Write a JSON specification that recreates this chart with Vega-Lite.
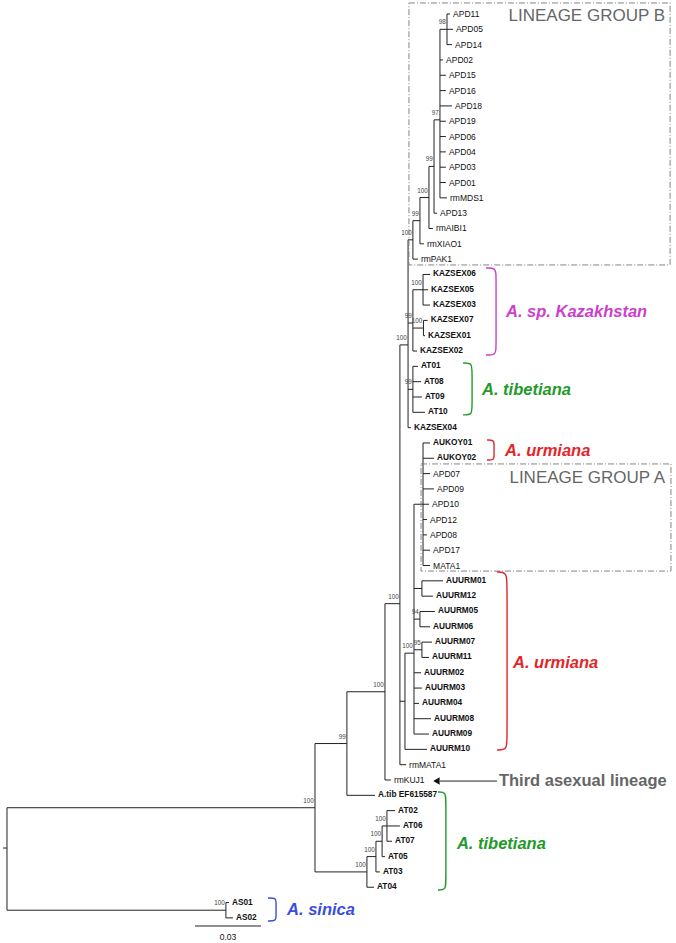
{
  "$schema": "https://vega.github.io/schema/vega-lite/v6.json",
  "width": 676,
  "height": 943,
  "autosize": "none",
  "padding": 0,
  "background": "white",
  "config": {"view": {"stroke": null}, "axis": {"disable": true}, "font": "Liberation Sans"},
  "datasets": {
    "tree": [
      {"id":"nMain","parent":"root","x0":0,"x":0.14,"y":52.81,"boot":"100","type":"node"},
      {"id":"nAS","parent":"root","x0":0,"x":0.0995,"y":59.5,"boot":"100","type":"node"},
      {"id":"n99c","parent":"nMain","x0":0.14,"x":0.1545,"y":48.62,"boot":"99","type":"node"},
      {"id":"nATd","parent":"nMain","x0":0.14,"x":0.1636,"y":57,"boot":"100","type":"node"},
      {"id":"nATc","parent":"nATd","x0":0.1636,"x":0.1677,"y":56,"boot":"100","type":"node"},
      {"id":"nATb","parent":"nATc","x0":0.1677,"x":0.1705,"y":55,"boot":"100","type":"node"},
      {"id":"nATa","parent":"nATb","x0":0.1705,"x":0.1727,"y":54,"boot":"100","type":"node"},
      {"id":"n385","parent":"n99c","x0":0.1545,"x":0.1718,"y":45.24,"boot":"100","type":"node"},
      {"id":"nN","parent":"n385","x0":0.1718,"x":0.1786,"y":39.49,"boot":"100","type":"node"},
      {"id":"nUpper","parent":"nN","x0":0.1786,"x":0.1823,"y":22.6,"boot":"100","type":"node"},
      {"id":"nV","parent":"nN","x0":0.1786,"x":0.1809,"y":45.86,"boot":"","type":"node"},
      {"id":"nU","parent":"nV","x0":0.1809,"x":0.185,"y":42.72,"boot":"100","type":"node"},
      {"id":"nA","parent":"nU","x0":0.185,"x":0.1891,"y":33,"boot":"","type":"node"},
      {"id":"nAU1","parent":"nU","x0":0.185,"x":0.1886,"y":38.5,"boot":"","type":"node"},
      {"id":"n94","parent":"nU","x0":0.185,"x":0.1877,"y":40.5,"boot":"94","type":"node"},
      {"id":"n95","parent":"nU","x0":0.185,"x":0.1886,"y":42.5,"boot":"95","type":"node"},
      {"id":"nLinB","parent":"nUpper","x0":0.1823,"x":0.1845,"y":15.74,"boot":"100","type":"node"},
      {"id":"n99b","parent":"nLinB","x0":0.1845,"x":0.1877,"y":14.49,"boot":"99","type":"node"},
      {"id":"n100a","parent":"n99b","x0":0.1877,"x":0.1918,"y":12.98,"boot":"100","type":"node"},
      {"id":"n99a","parent":"n100a","x0":0.1918,"x":0.1941,"y":10.95,"boot":"99","type":"node"},
      {"id":"n97","parent":"n99a","x0":0.1941,"x":0.1968,"y":7.91,"boot":"97","type":"node"},
      {"id":"n98","parent":"n97","x0":0.1968,"x":0.2,"y":2,"boot":"98","type":"node"},
      {"id":"nKAZ","parent":"nUpper","x0":0.1823,"x":0.1845,"y":21.17,"boot":"99","type":"node"},
      {"id":"nK100a","parent":"nKAZ","x0":0.1845,"x":0.1891,"y":19,"boot":"100","type":"node"},
      {"id":"nK100b","parent":"nKAZ","x0":0.1845,"x":0.1893,"y":21.5,"boot":"100","type":"node"},
      {"id":"nAT","parent":"nUpper","x0":0.1823,"x":0.1845,"y":25.5,"boot":"99","type":"node"},
      {"id":"APD11","parent":"n98","x0":0.2,"x":0.2014,"y":1,"boot":"","type":"asexual"},
      {"id":"APD05","parent":"n98","x0":0.2,"x":0.2027,"y":2,"boot":"","type":"asexual"},
      {"id":"APD14","parent":"n98","x0":0.2,"x":0.2023,"y":3,"boot":"","type":"asexual"},
      {"id":"APD02","parent":"n97","x0":0.1968,"x":0.1982,"y":4,"boot":"","type":"asexual"},
      {"id":"APD15","parent":"n97","x0":0.1968,"x":0.1995,"y":5,"boot":"","type":"asexual"},
      {"id":"APD16","parent":"n97","x0":0.1968,"x":0.1995,"y":6,"boot":"","type":"asexual"},
      {"id":"APD18","parent":"n97","x0":0.1968,"x":0.2023,"y":7,"boot":"","type":"asexual"},
      {"id":"APD19","parent":"n97","x0":0.1968,"x":0.1995,"y":8,"boot":"","type":"asexual"},
      {"id":"APD06","parent":"n97","x0":0.1968,"x":0.1995,"y":9,"boot":"","type":"asexual"},
      {"id":"APD04","parent":"n97","x0":0.1968,"x":0.1995,"y":10,"boot":"","type":"asexual"},
      {"id":"APD03","parent":"n97","x0":0.1968,"x":0.1995,"y":11,"boot":"","type":"asexual"},
      {"id":"APD01","parent":"n97","x0":0.1968,"x":0.1995,"y":12,"boot":"","type":"asexual"},
      {"id":"rmMDS1","parent":"n97","x0":0.1968,"x":0.2,"y":13,"boot":"","type":"asexual"},
      {"id":"APD13","parent":"n99a","x0":0.1941,"x":0.1955,"y":14,"boot":"","type":"asexual"},
      {"id":"rmAIBI1","parent":"n100a","x0":0.1918,"x":0.1936,"y":15,"boot":"","type":"asexual"},
      {"id":"rmXIAO1","parent":"n99b","x0":0.1877,"x":0.1895,"y":16,"boot":"","type":"asexual"},
      {"id":"rmPAK1","parent":"nLinB","x0":0.1845,"x":0.1868,"y":17,"boot":"","type":"asexual"},
      {"id":"KAZSEX06","parent":"nK100a","x0":0.1891,"x":0.1923,"y":18,"boot":"","type":"sexual"},
      {"id":"KAZSEX05","parent":"nK100a","x0":0.1891,"x":0.1914,"y":19,"boot":"","type":"sexual"},
      {"id":"KAZSEX03","parent":"nK100a","x0":0.1891,"x":0.1923,"y":20,"boot":"","type":"sexual"},
      {"id":"KAZSEX07","parent":"nK100b","x0":0.1893,"x":0.1912,"y":21,"boot":"","type":"sexual"},
      {"id":"KAZSEX01","parent":"nK100b","x0":0.1893,"x":0.1900,"y":22,"boot":"","type":"sexual"},
      {"id":"KAZSEX02","parent":"nKAZ","x0":0.1845,"x":0.1864,"y":23,"boot":"","type":"sexual"},
      {"id":"AT01","parent":"nAT","x0":0.1845,"x":0.1868,"y":24,"boot":"","type":"sexual"},
      {"id":"AT08","parent":"nAT","x0":0.1845,"x":0.1882,"y":25,"boot":"","type":"sexual"},
      {"id":"AT09","parent":"nAT","x0":0.1845,"x":0.1886,"y":26,"boot":"","type":"sexual"},
      {"id":"AT10","parent":"nAT","x0":0.1845,"x":0.19,"y":27,"boot":"","type":"sexual"},
      {"id":"KAZSEX04","parent":"nUpper","x0":0.1823,"x":0.1836,"y":28,"boot":"","type":"sexual"},
      {"id":"AUKOY01","parent":"nA","x0":0.1891,"x":0.1923,"y":29,"boot":"","type":"sexual"},
      {"id":"AUKOY02","parent":"nA","x0":0.1891,"x":0.1941,"y":30,"boot":"","type":"sexual"},
      {"id":"APD07","parent":"nA","x0":0.1891,"x":0.1923,"y":31,"boot":"","type":"asexual"},
      {"id":"APD09","parent":"nA","x0":0.1891,"x":0.1941,"y":32,"boot":"","type":"asexual"},
      {"id":"APD10","parent":"nA","x0":0.1891,"x":0.1918,"y":33,"boot":"","type":"asexual"},
      {"id":"APD12","parent":"nA","x0":0.1891,"x":0.1909,"y":34,"boot":"","type":"asexual"},
      {"id":"APD08","parent":"nA","x0":0.1891,"x":0.1909,"y":35,"boot":"","type":"asexual"},
      {"id":"APD17","parent":"nA","x0":0.1891,"x":0.1923,"y":36,"boot":"","type":"asexual"},
      {"id":"MATA1","parent":"nA","x0":0.1891,"x":0.1923,"y":37,"boot":"","type":"asexual"},
      {"id":"AUURM01","parent":"nAU1","x0":0.1886,"x":0.1982,"y":38,"boot":"","type":"sexual"},
      {"id":"AUURM12","parent":"nAU1","x0":0.1886,"x":0.1936,"y":39,"boot":"","type":"sexual"},
      {"id":"AUURM05","parent":"n94","x0":0.1877,"x":0.1945,"y":40,"boot":"","type":"sexual"},
      {"id":"AUURM06","parent":"n94","x0":0.1877,"x":0.1923,"y":41,"boot":"","type":"sexual"},
      {"id":"AUURM07","parent":"n95","x0":0.1886,"x":0.1932,"y":42,"boot":"","type":"sexual"},
      {"id":"AUURM11","parent":"n95","x0":0.1886,"x":0.1918,"y":43,"boot":"","type":"sexual"},
      {"id":"AUURM02","parent":"nU","x0":0.185,"x":0.1882,"y":44,"boot":"","type":"sexual"},
      {"id":"AUURM03","parent":"nU","x0":0.185,"x":0.1886,"y":45,"boot":"","type":"sexual"},
      {"id":"AUURM04","parent":"nU","x0":0.185,"x":0.1873,"y":46,"boot":"","type":"sexual"},
      {"id":"AUURM08","parent":"nU","x0":0.185,"x":0.1927,"y":47,"boot":"","type":"sexual"},
      {"id":"AUURM09","parent":"nU","x0":0.185,"x":0.1918,"y":48,"boot":"","type":"sexual"},
      {"id":"AUURM10","parent":"nV","x0":0.1809,"x":0.1909,"y":49,"boot":"","type":"sexual"},
      {"id":"rmMATA1","parent":"nN","x0":0.1786,"x":0.1814,"y":50,"boot":"","type":"asexual"},
      {"id":"rmKUJ1","parent":"n385","x0":0.1718,"x":0.1745,"y":51,"boot":"","type":"asexual"},
      {"id":"A.tib EF615587","parent":"n99c","x0":0.1545,"x":0.1673,"y":52,"boot":"","type":"sexual"},
      {"id":"AT02","parent":"nATa","x0":0.1727,"x":0.1764,"y":53,"boot":"","type":"sexual"},
      {"id":"AT06","parent":"nATa","x0":0.1727,"x":0.1786,"y":54,"boot":"","type":"sexual"},
      {"id":"AT07","parent":"nATa","x0":0.1727,"x":0.175,"y":55,"boot":"","type":"sexual"},
      {"id":"AT05","parent":"nATb","x0":0.1705,"x":0.1718,"y":56,"boot":"","type":"sexual"},
      {"id":"AT03","parent":"nATc","x0":0.1677,"x":0.1695,"y":57,"boot":"","type":"sexual"},
      {"id":"AT04","parent":"nATd","x0":0.1636,"x":0.1668,"y":58,"boot":"","type":"sexual"},
      {"id":"AS01","parent":"nAS","x0":0.0995,"x":0.1009,"y":59,"boot":"","type":"sexual"},
      {"id":"AS02","parent":"nAS","x0":0.0995,"x":0.1027,"y":60,"boot":"","type":"sexual"}
    ],
    "rules": [
      {"what":"root","x":-0.0018,"x2":0,"y":55.44},
      {"what":"scale","x":0.08545,"x2":0.11545,"y":60.53},
      {"what":"arrow","x":0.1968,"x2":0.2227,"y":51.07}
    ],
    "boxes": [
      {"name":"B","x":0.1827,"x2":0.3014,"y":0.28,"y2":17.38},
      {"name":"A","x":0.1882,"x2":0.3018,"y":30.37,"y2":37.36}
    ],
    "brackets": [
      {"g":"k","sp":"A. sp. Kazakhstan","o":1,"x":0.2177,"y":17.58},
      {"g":"k","sp":"A. sp. Kazakhstan","o":2,"x":0.2223,"y":17.58},
      {"g":"k","sp":"A. sp. Kazakhstan","o":3,"x":0.2223,"y":18.1},
      {"g":"k","sp":"A. sp. Kazakhstan","o":4,"x":0.2223,"y":22.74},
      {"g":"k","sp":"A. sp. Kazakhstan","o":5,"x":0.2223,"y":23.26},
      {"g":"k","sp":"A. sp. Kazakhstan","o":6,"x":0.2177,"y":23.26},
      {"g":"t1","sp":"A. tibetiana","o":1,"x":0.2073,"y":23.78},
      {"g":"t1","sp":"A. tibetiana","o":2,"x":0.2114,"y":23.78},
      {"g":"t1","sp":"A. tibetiana","o":3,"x":0.2114,"y":24.3},
      {"g":"t1","sp":"A. tibetiana","o":4,"x":0.2114,"y":26.65},
      {"g":"t1","sp":"A. tibetiana","o":5,"x":0.2114,"y":27.17},
      {"g":"t1","sp":"A. tibetiana","o":6,"x":0.2073,"y":27.17},
      {"g":"u1","sp":"A. urmiana","o":1,"x":0.2182,"y":28.81},
      {"g":"u1","sp":"A. urmiana","o":2,"x":0.2214,"y":28.81},
      {"g":"u1","sp":"A. urmiana","o":3,"x":0.2214,"y":29.1},
      {"g":"u1","sp":"A. urmiana","o":4,"x":0.2214,"y":29.82},
      {"g":"u1","sp":"A. urmiana","o":5,"x":0.2214,"y":30.11},
      {"g":"u1","sp":"A. urmiana","o":6,"x":0.2182,"y":30.11},
      {"g":"u2","sp":"A. urmiana","o":1,"x":0.2227,"y":37.42},
      {"g":"u2","sp":"A. urmiana","o":2,"x":0.2273,"y":37.42},
      {"g":"u2","sp":"A. urmiana","o":3,"x":0.2273,"y":38.4},
      {"g":"u2","sp":"A. urmiana","o":4,"x":0.2273,"y":48.3},
      {"g":"u2","sp":"A. urmiana","o":5,"x":0.2273,"y":49.04},
      {"g":"u2","sp":"A. urmiana","o":6,"x":0.2227,"y":49.04},
      {"g":"t2","sp":"A. tibetiana","o":1,"x":0.1959,"y":51.78},
      {"g":"t2","sp":"A. tibetiana","o":2,"x":0.1995,"y":51.78},
      {"g":"t2","sp":"A. tibetiana","o":3,"x":0.1995,"y":52.4},
      {"g":"t2","sp":"A. tibetiana","o":4,"x":0.1995,"y":57.56},
      {"g":"t2","sp":"A. tibetiana","o":5,"x":0.1995,"y":58.18},
      {"g":"t2","sp":"A. tibetiana","o":6,"x":0.1959,"y":58.18},
      {"g":"s","sp":"A. sinica","o":1,"x":0.1186,"y":58.7},
      {"g":"s","sp":"A. sinica","o":2,"x":0.1223,"y":58.7},
      {"g":"s","sp":"A. sinica","o":3,"x":0.1223,"y":59.0},
      {"g":"s","sp":"A. sinica","o":4,"x":0.1223,"y":59.9},
      {"g":"s","sp":"A. sinica","o":5,"x":0.1223,"y":60.2},
      {"g":"s","sp":"A. sinica","o":6,"x":0.1186,"y":60.2}
    ],
    "species": [
      {"sp":"A. sp. Kazakhstan","x":0.2268,"y":20.45},
      {"sp":"A. tibetiana","x":0.2159,"y":25.54},
      {"sp":"A. urmiana","x":0.2264,"y":29.52},
      {"sp":"A. urmiana","x":0.23,"y":43.36},
      {"sp":"A. tibetiana","x":0.2045,"y":55.18},
      {"sp":"A. sinica","x":0.1273,"y":59.49}
    ],
    "groups": [
      {"t":"LINEAGE GROUP B","x":0.2991,"y":1.1},
      {"t":"LINEAGE GROUP A","x":0.2991,"y":31.29}
    ],
    "third": [{"t":"Third asexual lineage","x":0.2236,"y":51.07}],
    "arrowhead": [{"x":0.1952,"y":51.07}],
    "scaletext": [{"t":"0.03","x":0.10045,"y":61.25}]
  },
  "layer": [
    {
      "data": {"name": "tree"},
      "mark": {"type": "rule", "color": "#222", "strokeWidth": 1},
      "encoding": {
        "x": {"field": "x0", "type": "quantitative", "scale": {"domain": [-0.00318, 0.30409], "nice": false, "zero": false}},
        "x2": {"field": "x"},
        "y": {"field": "y", "type": "quantitative", "scale": {"domain": [0.0862, 61.64], "reverse": true, "nice": false, "zero": false}}
      }
    },
    {
      "data": {"name": "tree"},
      "transform": [
        {"aggregate": [{"op": "min", "field": "y", "as": "ymin"}, {"op": "max", "field": "y", "as": "ymax"}], "groupby": ["parent", "x0"]}
      ],
      "mark": {"type": "rule", "color": "#222", "strokeWidth": 1},
      "encoding": {
        "x": {"field": "x0", "type": "quantitative", "scale": {"domain": [-0.00318, 0.30409], "nice": false, "zero": false}},
        "y": {"field": "ymin", "type": "quantitative", "scale": {"domain": [0.0862, 61.64], "reverse": true, "nice": false, "zero": false}},
        "y2": {"field": "ymax"}
      }
    },
    {
      "data": {"name": "rules"},
      "mark": {"type": "rule", "color": "#222", "strokeWidth": 1},
      "encoding": {
        "x": {"field": "x", "type": "quantitative", "scale": {"domain": [-0.00318, 0.30409], "nice": false, "zero": false}},
        "x2": {"field": "x2"},
        "y": {"field": "y", "type": "quantitative", "scale": {"domain": [0.0862, 61.64], "reverse": true, "nice": false, "zero": false}}
      }
    },
    {
      "data": {"name": "arrowhead"},
      "mark": {"type": "point", "shape": "triangle-left", "filled": true, "color": "#111", "size": 55, "opacity": 1},
      "encoding": {
        "x": {"field": "x", "type": "quantitative", "scale": {"domain": [-0.00318, 0.30409], "nice": false, "zero": false}},
        "y": {"field": "y", "type": "quantitative", "scale": {"domain": [0.0862, 61.64], "reverse": true, "nice": false, "zero": false}}
      }
    },
    {
      "data": {"name": "tree"},
      "transform": [{"filter": "datum.type == 'asexual'"}],
      "mark": {"type": "text", "align": "left", "baseline": "middle", "dx": 3, "fontSize": 8.5, "color": "#111"},
      "encoding": {
        "x": {"field": "x", "type": "quantitative", "scale": {"domain": [-0.00318, 0.30409], "nice": false, "zero": false}},
        "y": {"field": "y", "type": "quantitative", "scale": {"domain": [0.0862, 61.64], "reverse": true, "nice": false, "zero": false}},
        "text": {"field": "id"}
      }
    },
    {
      "data": {"name": "tree"},
      "transform": [{"filter": "datum.type == 'sexual'"}],
      "mark": {"type": "text", "align": "left", "baseline": "middle", "dx": 3, "fontSize": 8.3, "fontWeight": "bold", "color": "#111"},
      "encoding": {
        "x": {"field": "x", "type": "quantitative", "scale": {"domain": [-0.00318, 0.30409], "nice": false, "zero": false}},
        "y": {"field": "y", "type": "quantitative", "scale": {"domain": [0.0862, 61.64], "reverse": true, "nice": false, "zero": false}},
        "text": {"field": "id"}
      }
    },
    {
      "data": {"name": "tree"},
      "transform": [{"filter": "datum.boot != ''"}],
      "mark": {"type": "text", "align": "right", "baseline": "middle", "dx": -1.2, "dy": -7, "fontSize": 6.3, "color": "#444"},
      "encoding": {
        "x": {"field": "x", "type": "quantitative", "scale": {"domain": [-0.00318, 0.30409], "nice": false, "zero": false}},
        "y": {"field": "y", "type": "quantitative", "scale": {"domain": [0.0862, 61.64], "reverse": true, "nice": false, "zero": false}},
        "text": {"field": "boot"}
      }
    },
    {
      "data": {"name": "boxes"},
      "mark": {"type": "rect", "fill": null, "fillOpacity": 0, "stroke": "#777", "strokeWidth": 0.9, "strokeDash": [6, 2, 1, 2]},
      "encoding": {
        "x": {"field": "x", "type": "quantitative", "scale": {"domain": [-0.00318, 0.30409], "nice": false, "zero": false}},
        "x2": {"field": "x2"},
        "y": {"field": "y", "type": "quantitative", "scale": {"domain": [0.0862, 61.64], "reverse": true, "nice": false, "zero": false}},
        "y2": {"field": "y2"}
      }
    },
    {
      "data": {"name": "brackets"},
      "mark": {"type": "line", "interpolate": "basis", "strokeWidth": 1.4},
      "encoding": {
        "x": {"field": "x", "type": "quantitative", "scale": {"domain": [-0.00318, 0.30409], "nice": false, "zero": false}},
        "y": {"field": "y", "type": "quantitative", "scale": {"domain": [0.0862, 61.64], "reverse": true, "nice": false, "zero": false}},
        "detail": {"field": "g"},
        "order": {"field": "o", "type": "quantitative"},
        "color": {"field": "sp", "type": "nominal", "legend": null, "scale": {"domain": ["A. sp. Kazakhstan", "A. tibetiana", "A. urmiana", "A. sinica"], "range": ["#cc3fcc", "#229a2a", "#e3262a", "#3a4de0"]}}
      }
    },
    {
      "data": {"name": "species"},
      "mark": {"type": "text", "align": "left", "baseline": "middle", "fontSize": 16.5, "fontStyle": "italic", "fontWeight": "bold"},
      "encoding": {
        "x": {"field": "x", "type": "quantitative", "scale": {"domain": [-0.00318, 0.30409], "nice": false, "zero": false}},
        "y": {"field": "y", "type": "quantitative", "scale": {"domain": [0.0862, 61.64], "reverse": true, "nice": false, "zero": false}},
        "text": {"field": "sp"},
        "color": {"field": "sp", "type": "nominal", "legend": null, "scale": {"domain": ["A. sp. Kazakhstan", "A. tibetiana", "A. urmiana", "A. sinica"], "range": ["#cc3fcc", "#229a2a", "#e3262a", "#3a4de0"]}}
      }
    },
    {
      "data": {"name": "groups"},
      "mark": {"type": "text", "align": "right", "baseline": "middle", "fontSize": 17, "color": "#666"},
      "encoding": {
        "x": {"field": "x", "type": "quantitative", "scale": {"domain": [-0.00318, 0.30409], "nice": false, "zero": false}},
        "y": {"field": "y", "type": "quantitative", "scale": {"domain": [0.0862, 61.64], "reverse": true, "nice": false, "zero": false}},
        "text": {"field": "t"}
      }
    },
    {
      "data": {"name": "third"},
      "mark": {"type": "text", "align": "left", "baseline": "middle", "fontSize": 16.5, "fontWeight": "bold", "color": "#666"},
      "encoding": {
        "x": {"field": "x", "type": "quantitative", "scale": {"domain": [-0.00318, 0.30409], "nice": false, "zero": false}},
        "y": {"field": "y", "type": "quantitative", "scale": {"domain": [0.0862, 61.64], "reverse": true, "nice": false, "zero": false}},
        "text": {"field": "t"}
      }
    },
    {
      "data": {"name": "scaletext"},
      "mark": {"type": "text", "align": "center", "baseline": "middle", "fontSize": 8.5, "color": "#111"},
      "encoding": {
        "x": {"field": "x", "type": "quantitative", "scale": {"domain": [-0.00318, 0.30409], "nice": false, "zero": false}},
        "y": {"field": "y", "type": "quantitative", "scale": {"domain": [0.0862, 61.64], "reverse": true, "nice": false, "zero": false}},
        "text": {"field": "t"}
      }
    }
  ]
}
